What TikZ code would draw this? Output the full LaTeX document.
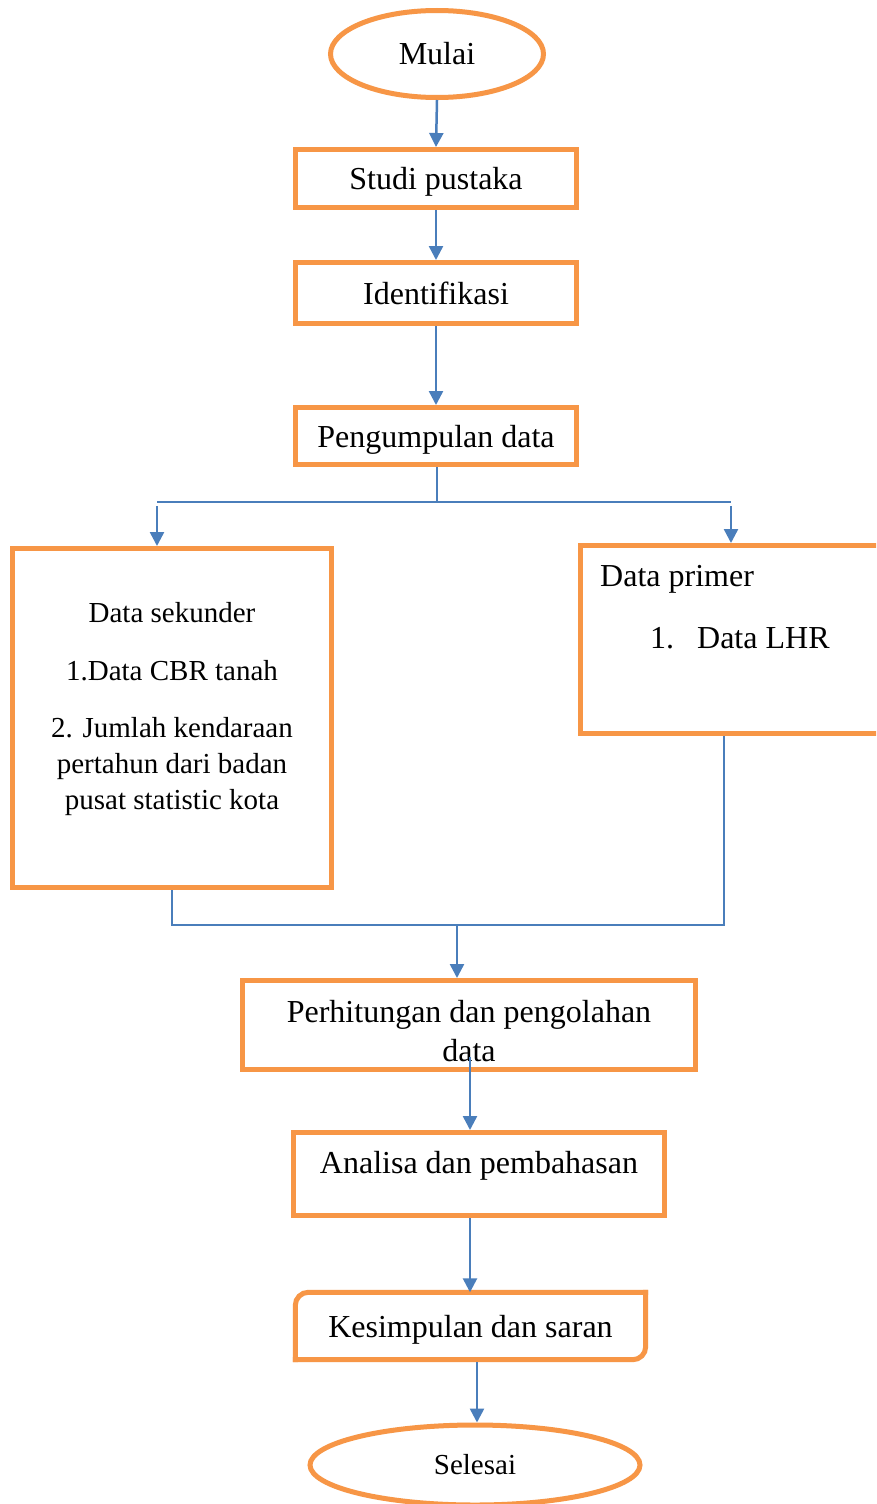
\documentclass[tikz,border=0pt]{standalone}
\usepackage{fontspec}
\setmainfont{Liberation Serif}
\usetikzlibrary{arrows.meta,shapes.geometric,calc}
\definecolor{org}{HTML}{F79646}
\definecolor{blu}{HTML}{4A7EBB}
\begin{document}
\begin{tikzpicture}[x=1pt,y=-1pt,
  box/.style={draw=org,line width=5pt,rectangle,inner sep=0pt,font=\fontsize{32}{39}\selectfont,align=center,text depth=0pt},
  oval/.style={draw=org,line width=5pt,ellipse,inner sep=0pt,font=\fontsize{32}{39}\selectfont},
  txt/.style={inner sep=0pt,font=\fontsize{32}{39}\selectfont,align=center},
  arr/.style={draw=blu,line width=2.5pt,-{Triangle[width=14pt,length=14pt]}},
  conn/.style={draw=blu,line width=2.2pt}]
\path[use as bounding box,clip] (0,0) rectangle (876,1504);
\fill[white] (0,0) rectangle (876,1504);

% nodes
\node[oval,minimum width=213pt,minimum height=87pt] (mulai) at (437,54) {Mulai};
\node[box,minimum width=281pt,minimum height=58pt] (studi) at (436,178.5) {Studi pustaka};
\node[box,minimum width=281pt,minimum height=61pt] (ident) at (436,293) {Identifikasi};
\node[box,minimum width=281pt,minimum height=57pt] (kump) at (436,436) {Pengumpulan data};
\node[box,minimum width=319pt,minimum height=339pt] (sek) at (172,718) {};
\node[txt,font=\fontsize{29}{36}\selectfont] (sek1) at (172,613) {Data sekunder};
\node[txt,font=\fontsize{29}{36}\selectfont] (sek2) at (172,671) {1.Data CBR tanah};
\node[txt,font=\fontsize{29}{36}\selectfont] (sek3) at (172,767) {2. Jumlah kendaraan\\pertahun dari badan\\pusat statistic kota};
\node[box,minimum width=301pt,minimum height=188pt] (prim) at (731,639.5) {};
\node[txt,anchor=west] (prim1) at (600,579) {Data primer};
\node[txt,anchor=west] (prim2) at (650,638) {\makebox[47pt][l]{1.}Data LHR};
\node[box,minimum width=453pt,minimum height=89pt] (hitung) at (469,1025) {};
\node[txt] (hitungt) at (469,1031) {Perhitungan dan pengolahan\\data};
\node[box,minimum width=371pt,minimum height=83pt] (anal) at (479,1174) {};
\node[txt] (analt) at (479,1166) {Analisa dan pembahasan};
\node[minimum width=350pt,minimum height=67pt,inner sep=0pt,text depth=0pt,font=\fontsize{32}{39}\selectfont] (kes) at (470.5,1326) {Kesimpulan dan saran};
\draw[org,line width=5pt,line cap=rect,rounded corners=13pt] (kes.south west) -- (kes.north west) -- (kes.north east);
\draw[org,line width=5pt,line cap=rect,rounded corners=13pt] (kes.north east) -- (kes.south east) -- (kes.south west);
\node[oval,minimum width=330pt,minimum height=80pt,font=\fontsize{29}{35}\selectfont] (selesai) at (475,1465) {Selesai};

% coordinates
\coordinate (split) at (437,502);
\coordinate (sl) at (157,502);
\coordinate (sr) at (731,502);
\coordinate (ml) at (172,925);
\coordinate (mr) at (724,925);
\coordinate (mm) at (457,925);
\coordinate (ha) at (470,1057);
\coordinate (kx) at (477,1362);

% connectors
\draw[arr] (mulai.south) -- (studi.north);
\draw[arr] (studi.south) -- (ident.north);
\draw[arr] (ident.south) -- (kump.north);
\draw[conn] (kump.south -| split) -- (split);
\draw[conn] (sl) -- (sr);
\draw[arr] ([yshift=-4pt]sl) -- (sl |- sek.north);
\draw[arr] ([yshift=-4pt]sr) -- (prim.north);
\draw[conn] (sek.south) -- (ml) -- (mr) -- (mr |- prim.south);
\draw[arr] (mm) -- (mm |- hitung.north);
\draw[arr] (ha) -- (ha |- anal.north);
\draw[arr] (ha |- anal.south) -- (ha |- kes.north);
\draw[arr] (kx) -- (kx |- selesai.north);
\end{tikzpicture}
\end{document}
